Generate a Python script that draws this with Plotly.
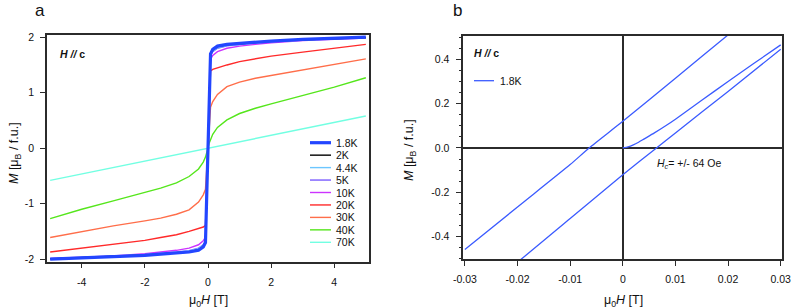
import plotly.graph_objects as go
import numpy as np

# ---------------- Panel a data: M(H) at several temperatures ----------------
H_a = [-5, -4, -3, -2, -1.5, -1, -0.6, -0.3, -0.15, -0.08, -0.03, 0,
       0.03, 0.08, 0.15, 0.3, 0.6, 1, 1.5, 2, 3, 4, 5]

M_1p8K = [-2.00, -1.98, -1.96, -1.93, -1.91, -1.89, -1.87, -1.84, -1.78, -1.70, -0.64, 0,
          0.64, 1.70, 1.78, 1.84, 1.87, 1.89, 1.91, 1.93, 1.96, 1.98, 2.00]
M_2K = [-1.995, -1.975, -1.955, -1.925, -1.905, -1.885, -1.865, -1.83, -1.77, -1.69, -0.62, 0,
        0.62, 1.69, 1.77, 1.83, 1.865, 1.885, 1.905, 1.925, 1.955, 1.975, 1.995]
M_4p4K = [-1.99, -1.97, -1.95, -1.92, -1.90, -1.875, -1.85, -1.81, -1.75, -1.68, -0.61, 0,
          0.61, 1.68, 1.75, 1.81, 1.85, 1.875, 1.90, 1.92, 1.95, 1.97, 1.99]
M_5K = [-1.99, -1.97, -1.95, -1.915, -1.895, -1.87, -1.845, -1.80, -1.74, -1.67, -0.60, 0,
        0.60, 1.67, 1.74, 1.80, 1.845, 1.87, 1.895, 1.915, 1.95, 1.97, 1.99]
M_10K = [-1.985, -1.965, -1.94, -1.90, -1.87, -1.84, -1.80, -1.74, -1.67, -1.60, -0.58, 0,
         0.58, 1.60, 1.67, 1.74, 1.80, 1.84, 1.87, 1.90, 1.94, 1.965, 1.985]
M_20K = [-1.87, -1.80, -1.73, -1.66, -1.61, -1.56, -1.50, -1.45, -1.42, -1.39, -0.52, 0,
         0.52, 1.39, 1.42, 1.45, 1.50, 1.56, 1.61, 1.66, 1.73, 1.80, 1.87]
M_30K = [-1.61, -1.50, -1.40, -1.31, -1.26, -1.19, -1.11, -0.97, -0.84, -0.74, -0.32, 0,
         0.32, 0.74, 0.84, 0.97, 1.11, 1.19, 1.26, 1.31, 1.40, 1.50, 1.61]
M_40K = [-1.27, -1.10, -0.95, -0.80, -0.72, -0.625, -0.51, -0.375, -0.25, -0.16, -0.08, 0,
         0.08, 0.16, 0.25, 0.375, 0.51, 0.625, 0.72, 0.80, 0.95, 1.10, 1.27]
M_70K = [-0.58, -0.465, -0.35, -0.233, -0.175, -0.117, -0.07, -0.035, -0.018, -0.009, -0.0035, 0,
         0.0035, 0.009, 0.018, 0.035, 0.07, 0.117, 0.175, 0.233, 0.35, 0.465, 0.58]

temps_a = ["1.8K", "2K", "4.4K", "5K", "10K", "20K", "30K", "40K", "70K"]
series_a = [M_1p8K, M_2K, M_4p4K, M_5K, M_10K, M_20K, M_30K, M_40K, M_70K]
colors_a = ["#2346ff", "#000000", "#6cc6ff", "#7a5cff", "#cc33ff",
            "#ff2a2a", "#ff6e4a", "#55e61c", "#72ffe2"]
widths_a = [3.2, 1.4, 1.4, 1.4, 1.4, 1.4, 1.4, 1.4, 1.4]

# ---------------- Panel b data: 1.8K hysteresis loop near zero field ----------------
H_virgin = [0, 0.001, 0.002, 0.003, 0.004, 0.006, 0.008, 0.01, 0.015, 0.02, 0.025, 0.03]
M_virgin = [0, 0.005, 0.014, 0.026, 0.04, 0.068, 0.098, 0.13, 0.215, 0.30, 0.383, 0.465]

H_desc = [0.03, 0.02, 0.01, 0.0, -0.0064, -0.01, -0.02, -0.03]
M_desc = [0.70, 0.51, 0.315, 0.12, 0.0, -0.075, -0.266, -0.458]

H_asc = [-0.03, -0.02, -0.01, 0.0, 0.0064, 0.01, 0.02, 0.03]
M_asc = [-0.70, -0.515, -0.318, -0.121, 0.0, 0.068, 0.255, 0.445]

# tick labels
a_xticks = [-4, -2, 0, 2, 4]
a_xtext = ["-4", "-2", "0", "2", "4"]
a_yticks = [-2, -1, 0, 1, 2]
a_ytext = ["-2", "-1", "0", "1", "2"]
b_xticks = [-0.03, -0.02, -0.01, 0, 0.01, 0.02, 0.03]
b_xtext = ["-0.03", "-0.02", "-0.01", "0", "0.01", "0.02", "0.03"]
b_yticks = [-0.4, -0.2, 0.0, 0.2, 0.4]
b_ytext = ["-0.4", "-0.2", "0.0", "0.2", "0.4"]

X_TITLE = "μ<sub>0</sub><i>H</i> [T]"
Y_TITLE = "<i>M</i> [μ<sub>B</sub> / f.u.]"

W, Hpx = 793, 308
FONT = "Liberation Sans, Arial, sans-serif"
AX = "#2b2b2b"
BLUE_B = "#3b5bff"
TICK_SIZE = 10.5
TITLE_SIZE = 12.5

fig = go.Figure()

# draw in reverse so 1.8K lies on top
for name, M, c, w in reversed(list(zip(temps_a, series_a, colors_a, widths_a))):
    fig.add_trace(go.Scatter(x=H_a, y=M, mode="lines", name=name,
                             line=dict(color=c, width=w), showlegend=False,
                             xaxis="x", yaxis="y"))

for hx, my in [(H_virgin, M_virgin), (H_desc, M_desc), (H_asc, M_asc)]:
    fig.add_trace(go.Scatter(x=hx, y=my, mode="lines", name="1.8K",
                             line=dict(color=BLUE_B, width=1.3, shape="spline", smoothing=0.6),
                             showlegend=False, xaxis="x2", yaxis="y2"))

def px2x(px):
    return px / W

def px2y(py):
    return 1 - py / Hpx

axis_common = dict(showline=True, mirror=True, linecolor=AX, linewidth=1.5,
                   showgrid=False, ticks="outside", tickcolor=AX, tickwidth=1.2,
                   automargin=False,
                   tickfont=dict(family=FONT, size=TICK_SIZE, color="#111"))

fig.update_layout(
    template="none",
    width=W, height=Hpx, margin=dict(l=0, r=0, t=0, b=0, pad=0),
    paper_bgcolor="white", plot_bgcolor="white",
    font=dict(family=FONT, color="#111"),
    xaxis=dict(domain=[px2x(47), px2x(369)], range=[-5.1, 5.1],
               tickmode="array", tickvals=a_xticks, ticktext=a_xtext, ticklen=5,
               ticklabelstandoff=5, zeroline=False,
               anchor="y", **axis_common),
    yaxis=dict(domain=[px2y(261.7), px2y(34.7)], range=[-2.045, 2.045],
               tickmode="array", tickvals=a_yticks, ticktext=a_ytext, ticklen=5,
               ticklabelstandoff=4, zeroline=False,
               anchor="x", **axis_common),
    xaxis2=dict(domain=[px2x(463.3), px2x(782.3)], range=[-0.0303, 0.0303],
                tickmode="array", tickvals=b_xticks, ticktext=b_xtext, ticklen=5,
                ticklabelstandoff=4,
                zeroline=True, zerolinecolor=AX, zerolinewidth=1.5,
                anchor="y2", **axis_common),
    yaxis2=dict(domain=[px2y(259.3), px2y(36)], range=[-0.502, 0.505],
                tickmode="array", tickvals=b_yticks, ticktext=b_ytext, ticklen=6,
                ticklabelstandoff=4,
                minor=dict(tickmode="linear", tick0=0, dtick=0.05, ticks="outside",
                           ticklen=3, tickcolor=AX, tickwidth=1.2),
                zeroline=True, zerolinecolor=AX, zerolinewidth=1.5,
                anchor="x2", **axis_common),
)

ann = []
shapes = []

def text_ann(text, x, y, size, xanchor="left", angle=0):
    return dict(text=text, x=px2x(x), y=px2y(y), xref="paper", yref="paper",
                xanchor=xanchor, yanchor="middle", showarrow=False, textangle=angle,
                font=dict(family=FONT, size=size, color="#111"))

# axis titles
ann.append(text_ann(X_TITLE, 208, 301, TITLE_SIZE, "center"))
ann.append(text_ann(X_TITLE, 623, 301, TITLE_SIZE, "center"))
ann.append(text_ann(Y_TITLE, 15, 153, TITLE_SIZE, "center", -90))
ann.append(text_ann(Y_TITLE, 410, 150, TITLE_SIZE, "center", -90))
# panel labels
ann.append(text_ann("a", 40, 11, 17, "center"))
ann.append(text_ann("b", 457, 11, 17, "center"))
# H // c labels
ann.append(text_ann("<b><i>H //</i> c</b>", 58, 54, 10.5))
ann.append(text_ann("<b><i>H //</i> c</b>", 472, 53, 10.5))
# Hc annotation
ann.append(text_ann("<i>H<sub>c</sub></i>= +/- 64 Oe", 655, 164, 10.5))

# manual legend panel a
for i, (name, c, w) in enumerate(zip(temps_a, colors_a, widths_a)):
    yy = 142.7 + 12.45 * i
    shapes.append(dict(type="line", xref="paper", yref="paper",
                       x0=px2x(310), x1=px2x(331), y0=px2y(yy), y1=px2y(yy),
                       line=dict(color=c, width=w)))
    ann.append(text_ann(name, 334, yy, 10.5))
# manual legend panel b
shapes.append(dict(type="line", xref="paper", yref="paper",
                   x0=px2x(474), x1=px2x(494), y0=px2y(80.7), y1=px2y(80.7),
                   line=dict(color=BLUE_B, width=1.3)))
ann.append(text_ann("1.8K", 498, 80.7, 10.5))

fig.update_layout(annotations=ann, shapes=shapes)
fig.write_html("out.html", config={"displayModeBar": False},
               post_script="document.body.style.margin='0';document.body.style.padding='0';")
